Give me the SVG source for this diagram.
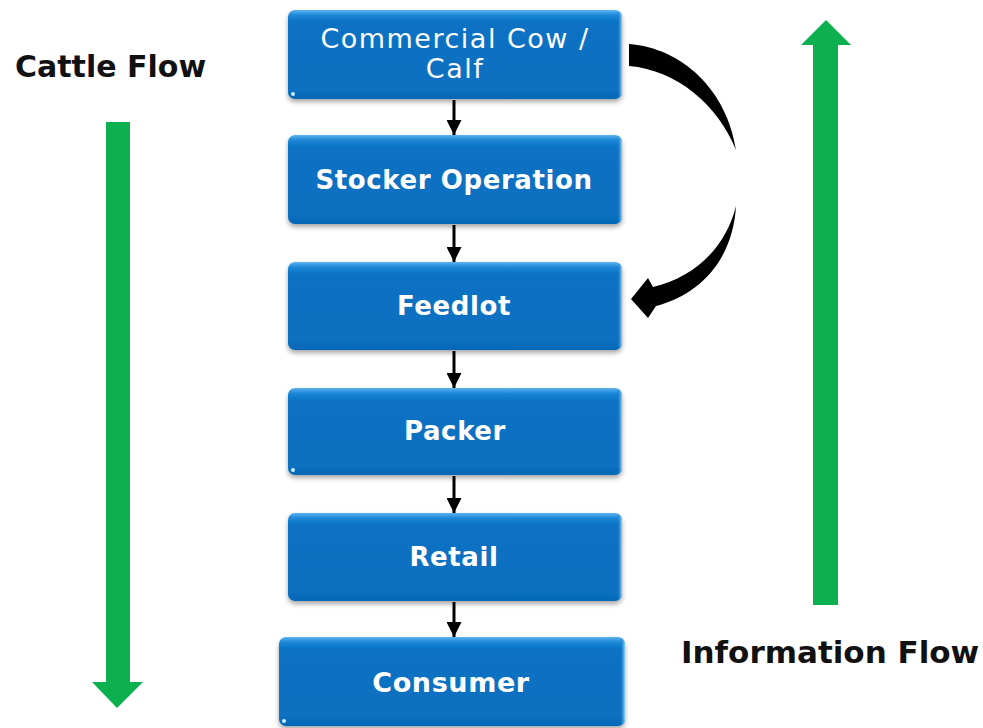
<svg xmlns="http://www.w3.org/2000/svg" width="983" height="728" viewBox="0 0 983 728">
<defs>
<linearGradient id="boxg" x1="0" y1="0" x2="0" y2="1">
<stop offset="0" stop-color="#5cb4f0"/>
<stop offset="0.06" stop-color="#1d86d6"/>
<stop offset="0.14" stop-color="#0872c4"/>
<stop offset="0.9" stop-color="#076fc0"/>
<stop offset="1" stop-color="#0668b5"/>
</linearGradient>
<linearGradient id="edgeg" x1="0" y1="0" x2="1" y2="0">
<stop offset="0" stop-color="#0a70c0" stop-opacity="0"/>
<stop offset="0.985" stop-color="#0a70c0" stop-opacity="0"/>
<stop offset="1" stop-color="#8fd8ff"/>
</linearGradient>
<filter id="sh" x="-10%" y="-10%" width="120%" height="130%">
<feDropShadow dx="0" dy="3" stdDeviation="2.5" flood-color="#000" flood-opacity="0.35"/>
</filter>
<marker id="ah" viewBox="0 0 10 10" refX="10" refY="5" markerWidth="5" markerHeight="5" orient="auto" markerUnits="strokeWidth">
<path d="M0,0 L10,5 L0,10 z" fill="#000"/>
</marker>
</defs>
<style>
.box{fill:url(#boxg);filter:url(#sh)}
.edge{fill:url(#edgeg)}
.dot{fill:#cdeeff}
.lb{font-family:"DejaVu Sans",Verdana,sans-serif;font-weight:bold;font-size:26px;letter-spacing:0.6px;fill:#fff;text-anchor:middle}
.ln{font-family:"DejaVu Sans",Verdana,sans-serif;font-size:27px;letter-spacing:1.5px;fill:#fff;text-anchor:middle}
.big{font-family:"DejaVu Sans",Verdana,sans-serif;font-weight:bold;font-size:30px;fill:#111}
.con{stroke:#000;stroke-width:3;fill:none;marker-end:url(#ah)}
.green{fill:#0db04f}
</style>

<g id="connectors">
<line class="con" x1="454" y1="100" x2="454" y2="135"/>
<line class="con" x1="454" y1="225" x2="454" y2="262"/>
<line class="con" x1="454" y1="351" x2="454" y2="388"/>
<line class="con" x1="454" y1="476" x2="454" y2="513"/>
<line class="con" x1="454" y1="602" x2="454" y2="637"/>
<path d="M629,44 C682,48 727,90 736,150 C718,105 677,70 629,66 Z" fill="#000"/>
<path d="M736,206 C733,258 702,294 656,306 L648,318 L631,299 L648,278 L653,287 C692,278 725,250 736,206 Z" fill="#000"/>
</g>

<g id="node-cowcalf">
<rect class="box" x="288" y="10" width="334" height="89" rx="7"/>
<rect class="edge" x="288" y="10" width="334" height="89" rx="7"/>
<circle class="dot" cx="293" cy="94" r="2"/>
<text class="ln" x="455" y="48">Commercial Cow /</text>
<text class="ln" x="455" y="78">Calf</text>
</g>
<g id="node-stocker">
<rect class="box" x="288" y="135" width="334" height="89" rx="7"/>
<rect class="edge" x="288" y="135" width="334" height="89" rx="7"/>
<text class="lb" x="454" y="189">Stocker Operation</text>
</g>
<g id="node-feedlot">
<rect class="box" x="288" y="262" width="334" height="88" rx="7"/>
<rect class="edge" x="288" y="262" width="334" height="88" rx="7"/>
<text class="lb" x="454" y="315">Feedlot</text>
</g>
<g id="node-packer">
<rect class="box" x="288" y="388" width="334" height="87" rx="7"/>
<rect class="edge" x="288" y="388" width="334" height="87" rx="7"/>
<circle class="dot" cx="293" cy="470" r="2"/>
<text class="lb" x="455" y="440">Packer</text>
</g>
<g id="node-retail">
<rect class="box" x="288" y="513" width="334" height="88" rx="7"/>
<rect class="edge" x="288" y="513" width="334" height="88" rx="7"/>
<text class="lb" x="454" y="566">Retail</text>
</g>
<g id="node-consumer">
<rect class="box" x="279" y="637" width="346" height="89" rx="7"/>
<rect class="edge" x="279" y="637" width="346" height="89" rx="7"/>
<circle class="dot" cx="284" cy="721" r="2"/>
<text class="lb" x="451" y="692" style="font-size:27px">Consumer</text>
</g>

<g id="cattle-flow">
<text class="big" x="15" y="77">Cattle Flow</text>
<path class="green" d="M106,122 H130 V682 H143 L117,708 L92,682 H106 Z"/>
</g>
<g id="information-flow">
<text class="big" x="681" y="663" style="font-size:31px">Information Flow</text>
<path class="green" d="M813,605 V45 H801 L826,20 L851,45 H838 V605 Z"/>
</g>
</svg>
